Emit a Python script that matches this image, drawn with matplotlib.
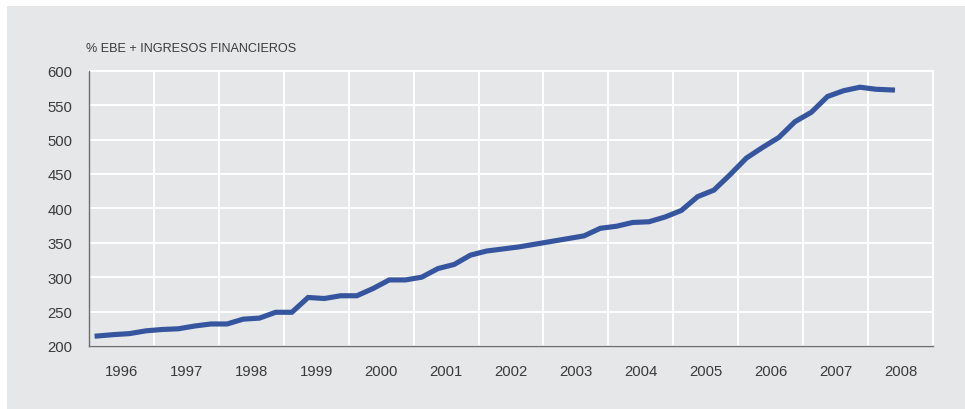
import matplotlib
matplotlib.use("Agg")
import matplotlib.pyplot as plt
from matplotlib.patches import Rectangle
import numpy as np

plt.rcParams['font.family'] = ['Liberation Sans', 'DejaVu Sans']

# Data: quarterly values, 1996 Q1 .. 2008 Q2
start_year = 1996
values = [
    214.5, 216.5, 218, 222,      # 1996
    224, 225, 229, 232,          # 1997
    232, 239, 240.5, 249,        # 1998
    249, 270.5, 269, 273,        # 1999
    273, 283.5, 296, 296,        # 2000
    300, 312.5, 318.5, 332,      # 2001
    338, 341, 344, 348,          # 2002
    352, 356, 360, 371,          # 2003
    374, 379.5, 380.5, 387.5,    # 2004
    397, 417, 426.5, 449,        # 2005
    473, 488.5, 503, 526,        # 2006
    539.5, 562.5, 571, 576,      # 2007
    573, 572,                    # 2008
]
year_labels = [str(y) for y in range(1996, 2009)]
y_ticks = [200, 250, 300, 350, 400, 450, 500, 550, 600]
y_title = "% EBE + INGRESOS FINANCIEROS"

bg = '#e6e7e9'
line_color = '#36559f'
text_color = '#3a3a3a'

fig = plt.figure(figsize=(9.65, 4.10), dpi=100)
fig.patch.set_facecolor('white')
fig.patches.append(Rectangle((7 / 965, 0), 1, 1 - 7 / 410, transform=fig.transFigure,
                             facecolor=bg, edgecolor='none', zorder=-10))

ax = fig.add_axes([89 / 965, 63 / 410, 844 / 965, 275.3 / 410])
ax.set_facecolor(bg)
ax.set_zorder(1)

x = start_year + (np.arange(len(values)) + 0.5) / 4.0
ax.plot(x, values, color=line_color, lw=3.7, solid_joinstyle='miter', zorder=3)

ax.set_xlim(1996, 2009)
ax.set_ylim(200, 600)

ax.set_xticks([1996 + i + 0.5 for i in range(len(year_labels))])
ax.set_xticklabels(year_labels)
ax.set_xticks(np.arange(1997, 2010), minor=True)
ax.set_yticks(y_ticks)
ax.set_yticklabels([str(v) for v in y_ticks])

ax.tick_params(axis='both', which='both', length=0, labelsize=10.7, labelcolor=text_color)
ax.tick_params(axis='x', which='major', pad=13)
ax.tick_params(axis='y', which='major', pad=12)

ax.grid(False)
ax.grid(True, axis='x', which='minor', color='white', lw=1.4, zorder=1)
ax.grid(True, axis='y', which='major', color='white', lw=1.4, zorder=1)

for s in ['left', 'bottom']:
    ax.spines[s].set_color('#6d6e71')
    ax.spines[s].set_linewidth(1.0)
    ax.spines[s].set_zorder(4)
for s in ['top', 'right']:
    ax.spines[s].set_color('white')
    ax.spines[s].set_linewidth(1.4)

fig.text(86 / 965, 1 - 49 / 410, y_title, fontsize=9.1, color=text_color,
         ha='left', va='center', zorder=5)

fig.savefig('out.png', dpi=100, facecolor=fig.get_facecolor())
